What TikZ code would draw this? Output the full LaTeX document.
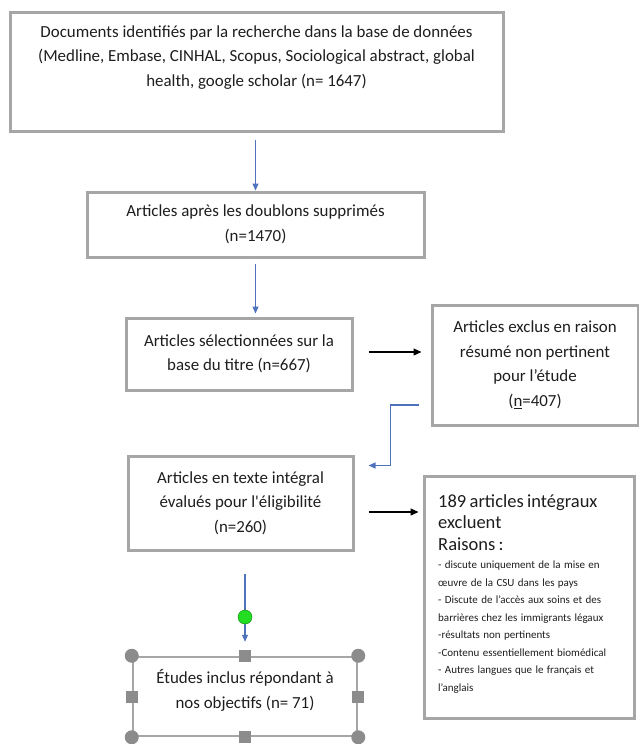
\documentclass[tikz,border=0pt]{standalone}
\usepackage{fontspec}
\setmainfont{Carlito}
\usetikzlibrary{arrows.meta}
\definecolor{boxgray}{HTML}{A6A6A6}
\definecolor{handlegray}{HTML}{8C8C8C}
\definecolor{wordblue}{HTML}{4F72BD}
\definecolor{inkgray}{HTML}{1E1E1E}
\definecolor{rotgreen}{HTML}{22DD22}
\begin{document}
\begin{tikzpicture}[x=1pt,y=-1pt,
    box/.style={draw=boxgray, line width=3pt, fill=white, inner sep=0pt,
      text=inkgray, align=center, font=\fontsize{16.9}{24.5}\selectfont},
    txt/.style={inner sep=0pt, text=inkgray, align=center,
      font=\fontsize{16.9}{24.5}\selectfont},
    cornerhandle/.style={circle, fill=handlegray, minimum size=14pt, inner sep=0pt},
    sidehandle/.style={rectangle, fill=handlegray, minimum size=12pt, inner sep=0pt},
    bluearrow/.style={draw=wordblue, line width=1.1pt, -{Triangle[length=7pt,width=6pt]}},
    blackarrow/.style={draw=black, line width=1.2pt, -{Triangle[length=8pt,width=7pt]}}]
  \useasboundingbox (0,0) rectangle (639,744);

  % boxes of the flow
  \node[box, minimum width=493pt, minimum height=119pt] (docs) at (256.5,71.5) {};
  \node[txt] (docsText) at (256.5,57.5) {Documents identifiés par la recherche dans la base de données\\
    (Medline, Embase, CINHAL, Scopus, Sociological abstract, global\\
    health, google scholar (n= 1647)};

  \node[box, minimum width=337pt, minimum height=65pt] (dupl) at (255.5,224.5)
    {Articles après les doublons supprimés\\(n=1470)};
  \node[box, minimum width=226pt, minimum height=72pt] (titre) at (239,354)
    {Articles sélectionnées sur la\\base du titre (n=667)};
  \node[box, minimum width=206pt, minimum height=120pt] (resume) at (535,365)
    {Articles exclus en raison\\résumé non pertinent\\pour l’étude\\(\underline{n}=407)};
  \node[box, minimum width=225pt, minimum height=94pt] (texte) at (240.5,503)
    {Articles en texte intégral\\évalués pour l\textquotesingle éligibilité\\(n=260)};

  % exclusions
  \node[box, minimum width=210pt, minimum height=242pt] (excl) at (529,597) {};
  \node[anchor=north west, text width=200pt, inner sep=0pt, text=inkgray] (exclText) at (438,494)
    {\fontsize{18.5}{21.5}\selectfont 189 articles intégraux\\excluent\\Raisons :\par
     \vspace{1pt}
     \fontsize{11}{17.5}\selectfont
     - discute uniquement de la mise en\\œuvre de la CSU dans les pays\\
     - Discute de l’accès aux soins et des\\barrières chez les immigrants légaux\\
     -résultats non pertinents\\-Contenu essentiellement biomédical\\
     - Autres langues que le français et\\l’anglais\par};

  % selected studies
  \node[draw=boxgray, line width=2.5pt, fill=white, minimum width=224pt, minimum height=79pt,
    inner sep=0pt] (inclus) at (245,696.5) {};
  \node[txt] (inclusText) at (245,690.5) {Études inclus répondant à\\nos objectifs (n= 71)};

  % connectors
  \draw[bluearrow, shorten <=7pt] (dupl.north |- docs.south) -- (dupl.north);
  \draw[bluearrow, shorten <=5pt, shorten >=3pt] (dupl.south) -- (dupl.south |- titre.north);
  \draw[blackarrow, shorten <=15pt, shorten >=9pt] ([yshift=2pt]titre.east) -- ([yshift=2pt]titre.east -| resume.west);
  \coordinate (elbowStart) at ([xshift=-12pt,yshift=-40pt]resume.west);
  \coordinate (elbowEnd) at ([xshift=14pt,yshift=-11pt]texte.north east);
  \draw[bluearrow] (elbowStart) -- ++(-28,0) |- (elbowEnd);
  \draw[blackarrow, shorten <=14pt, shorten >=4pt] ([yshift=-9pt]texte.east) -- ([yshift=-9pt]texte.east -| excl.west);
  \draw[bluearrow, shorten <=22pt, shorten >=14pt] (inclus.north |- texte.south) -- (inclus.north);

  % selection handles
  \node[circle, fill=rotgreen, draw=green!50!black, line width=0.4pt, minimum size=14pt,
    inner sep=0pt] (rotHandle) at (inclus.north |- 0,617) {};
  \foreach \a [count=\i] in {north west, north east, south west, south east}
    \node[cornerhandle] (corner\i) at (inclus.\a) {};
  \foreach \a [count=\i] in {north, south, east, west}
    \node[sidehandle] (side\i) at (inclus.\a) {};
\end{tikzpicture}
\end{document}
